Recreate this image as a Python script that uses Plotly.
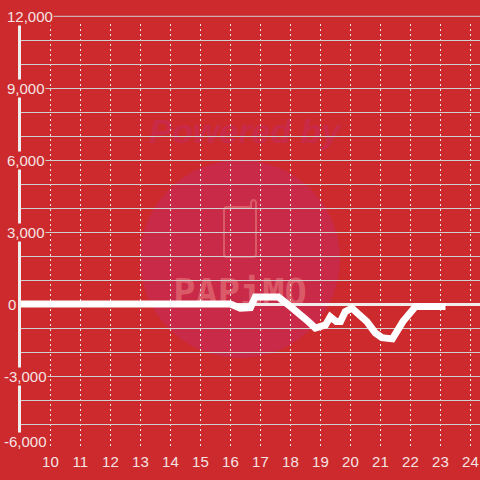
import plotly.graph_objects as go

hours = [9.02, 10, 12, 14, 16, 16.33, 16.67, 16.83, 17.6, 18.0, 18.33, 18.6, 18.83, 19.17, 19.33,
         19.53, 19.67, 19.83, 20.05, 20.55, 20.83, 21.05, 21.4, 21.75, 22.17, 23.17]
values = [0, 0, 0, 0, 0, -170, -150, 300, 300, -100, -500, -730, -1000, -870, -530,
          -730, -730, -310, -170, -730, -1200, -1400, -1450, -730, -100, -100]
x_ticks = list(range(10, 25))
y_grid = list(range(-6000, 12000, 1000))
y_labels = [12000, 9000, 6000, 3000, 0, -3000, -6000]

BG = "#CC2A2D"
TXT = "#F5E3E3"
W, H = 480, 480
L, T, B = 21, 24, 32
Y_LO, Y_HI = -6000, 11679


def px(x):
    return (x - L) / (W - L)


def py(y):
    return (H - B - y) / (H - B - T)


def yfrac(v):
    return (v - Y_LO) / (Y_HI - Y_LO)


fig = go.Figure(go.Scatter(x=hours, y=values, mode="lines",
                           line=dict(color="#FFFFFF", width=7, shape="linear"),
                           hoverinfo="skip"))

shapes = [
    # watermark disc
    dict(type="circle", xref="paper", yref="paper", layer="below",
         x0=px(140), x1=px(340), y0=py(358), y1=py(160),
         fillcolor="#C82A48", line=dict(width=0)),
    # watermark phone
    dict(type="path", xref="paper", yref="paper", layer="below",
         path=(f"M {px(227)} {py(207)} L {px(251)} {py(207)} L {px(251)} {py(202)} "
               f"Q {px(253.5)} {py(198)} {px(256)} {py(202)} L {px(256)} {py(254)} "
               f"Q {px(256)} {py(257)} {px(253)} {py(257)} L {px(227)} {py(257)} "
               f"Q {px(224)} {py(257)} {px(224)} {py(254)} L {px(224)} {py(210)} "
               f"Q {px(224)} {py(207)} {px(227)} {py(207)} Z"),
         line=dict(color="#DB5A68", width=2)),
    # watermark texts, held by empty boxes so the grid and line stay above them
    dict(type="rect", xref="paper", yref="paper", layer="below",
         x0=px(143), x1=px(347), y0=py(148), y1=py(108),
         line=dict(width=0), fillcolor="rgba(0,0,0,0)",
         label=dict(text="Powered by", textposition="middle center",
                    font=dict(family="Liberation Sans", size=34, color="#C82A48",
                              weight="bold", style="italic"))),
    dict(type="rect", xref="paper", yref="paper", layer="below",
         x0=px(160), x1=px(320), y0=py(309), y1=py(269),
         line=dict(width=0), fillcolor="rgba(0,0,0,0)",
         label=dict(text="PAPiMO", textposition="middle center",
                    font=dict(family="DejaVu Sans Mono", size=37, color="#DB5A68", weight="bold"))),
    # 12,000 grid line above the plot area
    dict(type="line", xref="paper", yref="paper", layer="below",
         x0=px(L), x1=1, y0=yfrac(12000), y1=yfrac(12000),
         line=dict(color="#D0D0D0", width=1)),
]

label_x = {12000: 6, 9000: 6, 6000: 6, 3000: 6, 0: 7, -3000: 2.5, -6000: 2.5}
label_lift = {-6000: 6.5}
annotations = []
for v in y_labels:
    annotations.append(dict(
        text=f"{v:,}", xref="paper", yref="paper", x=px(label_x[v]), y=yfrac(v),
        yshift=label_lift.get(v, 0),
        showarrow=False, xanchor="left", yanchor="middle", bgcolor=BG, borderpad=0,
        font=dict(family="Liberation Sans", size=15, color=TXT)))

fig.update_layout(
    width=W, height=H, autosize=False,
    margin=dict(l=L, r=0, t=T, b=B, pad=0),
    paper_bgcolor=BG, plot_bgcolor="rgba(0,0,0,0)",
    showlegend=False, shapes=shapes, annotations=annotations,
    xaxis=dict(range=[9.02, 24.32], tickvals=x_ticks, ticktext=[str(t) for t in x_ticks],
               showgrid=True, gridcolor="#E6E6E6", gridwidth=1, griddash="2px,3px",
               zeroline=False, showline=False, ticks="", ticklen=0, ticklabelstandoff=3,
               tickfont=dict(family="Liberation Sans", size=15, color=TXT)),
    yaxis=dict(range=[Y_LO, Y_HI], tickvals=y_grid, showticklabels=False,
               showgrid=True, gridcolor="#D0D0D0", gridwidth=1,
               zeroline=True, zerolinecolor="#F0ECEC", zerolinewidth=3,
               showline=True, linecolor="#EEEEEE", linewidth=3, ticks=""),
)
fig.write_html("out.html", config=dict(displayModeBar=False),
               post_script="document.body.style.margin='0';document.documentElement.style.overflow='hidden';")
